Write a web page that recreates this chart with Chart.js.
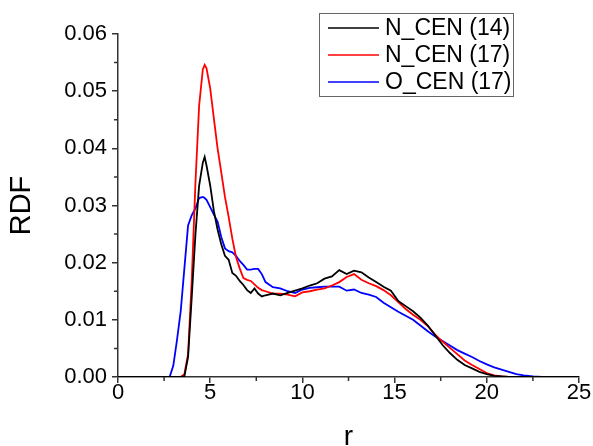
<!DOCTYPE html>
<html lang="en">
<head>
  <meta charset="UTF-8" />
  <title>RDF</title>
  <script src="https://cdn.jsdelivr.net/npm/chart.js"></script>
  <style>
    html, body { margin: 0; padding: 0; background: #fff; }
    #wrap { width: 593px; height: 446px; }
  </style>
</head>
<body>
  <div id="wrap"><canvas id="rdfChart" width="593" height="446"></canvas></div>

  <script>
    // r grid shared by all three curves
    const rValues = [
      0, 2.5, 2.8, 3.0, 3.2, 3.4, 3.6, 3.8, 4.0, 4.2, 4.4, 4.6, 4.7, 4.8, 5.0,
      5.2, 5.4, 5.6, 5.8, 6.0, 6.2, 6.4, 6.6, 6.8, 7.0, 7.2, 7.4, 7.6, 7.8, 8.0,
      8.4, 8.8, 9.2, 9.6, 10.0, 10.4, 10.8, 11.2, 11.6, 12.0, 12.4, 12.8, 13.2, 13.6,
      14.0, 14.4, 14.8, 15.2, 15.6, 16.0, 16.4, 16.8, 17.2, 17.6, 18.0, 18.4, 18.8,
      19.2, 19.6, 20.0, 20.4, 20.8, 21.2, 21.6, 22.0, 22.5, 23.0, 24.0, 25.0
    ];

    const nCen14 = [
      0, 0, 0, 0, 0, 0, 0.0001, 0.0035, 0.014, 0.025, 0.0335, 0.0375, 0.0385, 0.0370, 0.0335,
      0.0290, 0.0258, 0.0232, 0.0212, 0.0205, 0.0182, 0.0177, 0.0168, 0.0161, 0.0152, 0.0147, 0.0155, 0.0146, 0.0141, 0.0143,
      0.0146, 0.0143, 0.0147, 0.0151, 0.0155, 0.0160, 0.0164, 0.0172, 0.0176, 0.0187, 0.0180, 0.0186, 0.0183, 0.0174,
      0.0166, 0.0158, 0.0151, 0.0133, 0.0124, 0.0115, 0.0104, 0.0090, 0.0073, 0.0056, 0.0042, 0.0030, 0.0021,
      0.0015, 0.0009, 0.0005, 0.0002, 0.0001, 0, 0, 0, 0, 0, 0, 0
    ];

    const nCen17 = [
      0, 0, 0, 0, 0, 0, 0.0005, 0.004, 0.017, 0.034, 0.0475, 0.0538, 0.0546, 0.0540, 0.0505,
      0.0452, 0.0400, 0.0358, 0.0315, 0.0280, 0.0242, 0.0210, 0.0190, 0.0173, 0.0170, 0.0168, 0.0162, 0.0156, 0.0152, 0.0150,
      0.0146, 0.0146, 0.0144, 0.0141, 0.0148, 0.0150, 0.0153, 0.0155, 0.0160, 0.0166, 0.0175, 0.0180, 0.0170, 0.0164,
      0.0159, 0.0152, 0.0143, 0.0131, 0.0119, 0.0109, 0.0100, 0.0089, 0.0074, 0.0062, 0.0051, 0.0040, 0.0029,
      0.0021, 0.0014, 0.0007, 0.0003, 0.0001, 0, 0, 0, 0, 0, 0, 0
    ];

    const oCen17 = [
      0, 0, 0, 0.002, 0.0065, 0.0115, 0.0190, 0.0265, 0.0283, 0.0295, 0.0313, 0.0315, 0.0313, 0.0310, 0.0297,
      0.0284, 0.0272, 0.0245, 0.0225, 0.0220, 0.0218, 0.0212, 0.0203, 0.0196, 0.0188, 0.0188, 0.0189, 0.0189, 0.0180, 0.0166,
      0.0157, 0.0155, 0.0150, 0.0147, 0.0153, 0.0156, 0.0157, 0.0158, 0.0158, 0.0158, 0.0151, 0.0153, 0.0147, 0.0144,
      0.0140, 0.0130, 0.0122, 0.0114, 0.0107, 0.0100, 0.0090, 0.0080, 0.0071, 0.0063, 0.0055, 0.0047, 0.0041,
      0.0035, 0.0028, 0.0022, 0.0017, 0.0013, 0.0009, 0.0005, 0.0003, 0.0001, 0, 0, 0
    ];

    const seriesLabels = ['N_CEN (14)', 'N_CEN (17)', 'O_CEN (17)'];
    const seriesColors = ['#000000', '#ff0000', '#0000ff'];

    const FONT = '"Liberation Sans", Arial, sans-serif';

    function toPoints(ys) {
      return rValues.map((r, i) => ({ x: r, y: ys[i] }));
    }

    // short minor ticks between the major ones
    const minorTicks = {
      id: 'minorTicks',
      afterDraw(chart) {
        const ctx = chart.ctx;
        const xs = chart.scales.x, ys = chart.scales.y;
        const area = chart.chartArea;
        ctx.save();
        ctx.strokeStyle = '#333';
        ctx.lineWidth = 1.5;
        ctx.beginPath();
        for (let v = 2.5; v < 25; v += 5) {
          const px = xs.getPixelForValue(v);
          ctx.moveTo(px, area.bottom);
          ctx.lineTo(px, area.bottom + 4);
        }
        for (let v = 0.005; v < 0.06; v += 0.01) {
          const py = ys.getPixelForValue(v);
          ctx.moveTo(area.left, py);
          ctx.lineTo(area.left - 4, py);
        }
        ctx.stroke();
        ctx.restore();
      }
    };

    // boxed legend in the upper right
    const boxLegend = {
      id: 'boxLegend',
      afterDraw(chart) {
        const ctx = chart.ctx;
        ctx.save();
        ctx.strokeStyle = '#666';
        ctx.lineWidth = 1;
        ctx.strokeRect(319.5, 13.5, 194, 83);
        ctx.font = '23px ' + FONT;
        ctx.textBaseline = 'middle';
        ctx.fillStyle = '#000';
        chart.data.datasets.forEach((ds, i) => {
          const y = 28 + i * 27;
          ctx.strokeStyle = ds.borderColor;
          ctx.lineWidth = 1.5;
          ctx.beginPath();
          ctx.moveTo(328, y);
          ctx.lineTo(379, y);
          ctx.stroke();
          ctx.fillText(ds.label, 385, y + 1);
        });
        ctx.restore();
      }
    };

    new Chart(document.getElementById('rdfChart'), {
      type: 'line',
      data: {
        datasets: seriesLabels.map((label, i) => ({
          label: label,
          data: toPoints([nCen14, nCen17, oCen17][i]),
          borderColor: seriesColors[i],
          borderWidth: 1.8,
          pointRadius: 0,
          tension: 0,
          fill: false
        }))
      },
      options: {
        responsive: false,
        animation: false,
        events: [],
        layout: { padding: { top: 34, right: 14, bottom: 0, left: 0 } },
        plugins: { legend: { display: false }, tooltip: { enabled: false } },
        scales: {
          x: {
            type: 'linear',
            min: 0, max: 25,
            afterFit(scale) { scale.height = 69; },
            border: { color: '#333', width: 1.5 },
            grid: { drawOnChartArea: false, drawTicks: true, tickLength: 6, color: '#333', lineWidth: 1.5 },
            ticks: { stepSize: 5, color: '#000', padding: -3, font: { family: FONT, size: 22 }, maxRotation: 0 },
            title: { display: true, text: 'r', color: '#000', font: { family: FONT, size: 28, lineHeight: 1 }, padding: { top: 0, bottom: -5 } }
          },
          y: {
            min: 0, max: 0.06,
            afterFit(scale) { scale.width = 118; },
            border: { color: '#333', width: 1.5 },
            grid: { drawOnChartArea: false, drawTicks: true, tickLength: 6, color: '#333', lineWidth: 1.5 },
            ticks: {
              stepSize: 0.01, color: '#000', padding: 5,
              font: { family: FONT, size: 22 },
              callback: v => v.toFixed(2)
            },
            title: { display: true, text: 'RDF', color: '#000', font: { family: FONT, size: 29 }, padding: { top: 5, bottom: 0 } }
          }
        }
      },
      plugins: [minorTicks, boxLegend]
    });
  </script>
</body>
</html>
